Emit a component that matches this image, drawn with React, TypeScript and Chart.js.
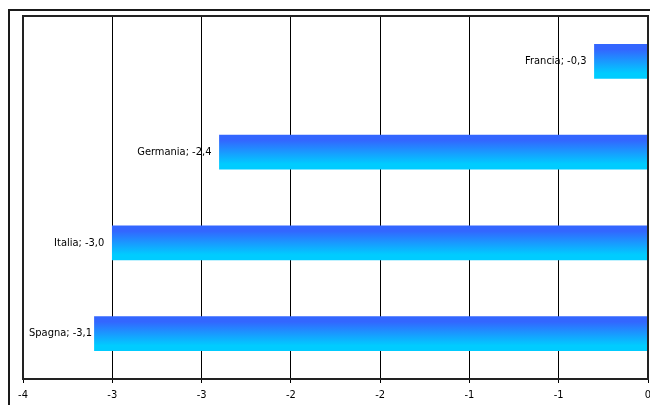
import React, { useEffect, useRef } from "react";
import { Chart, registerables } from "chart.js";

Chart.register(...registerables);

const categories = ["Francia", "Germania", "Italia", "Spagna"];
const values = [-0.3, -2.4, -3.0, -3.1];
const axisMin = -3.5;
const axisMax = 0;
const axisStep = 0.5;

const FONT = "'DejaVu Sans Condensed', 'Liberation Sans', sans-serif";

const framePlugin = {
  id: "frame",
  beforeDraw(chart: any) {
    const c = chart.ctx;
    c.save();
    c.fillStyle = "#ffffff";
    c.fillRect(0, 0, chart.width, chart.height);
    c.strokeStyle = "#1a1a1a";
    c.lineWidth = 2;
    c.strokeRect(9, 10, chart.width + 10, chart.height + 10);
    c.restore();
  },
  beforeDatasetsDraw(chart: any) {
    const meta = chart.getDatasetMeta(0);
    meta.data.forEach((el: any) => {
      const h = el.height || 34;
      const g = chart.ctx.createLinearGradient(0, el.y - h / 2, 0, el.y + h / 2);
      g.addColorStop(0, "#3366ff");
      g.addColorStop(0.15, "#3366ff");
      g.addColorStop(0.85, "#00ccff");
      g.addColorStop(1, "#00ccff");
      el.options = { ...el.options, backgroundColor: g };
    });
  },
  afterDraw(chart: any) {
    const a = chart.chartArea;
    const c = chart.ctx;
    c.save();
    c.strokeStyle = "#222";
    c.lineWidth = 2;
    c.strokeRect(a.left, a.top, a.right - a.left, a.bottom - a.top);
    c.restore();
  },
};

const labelPlugin = {
  id: "barLabels",
  afterDatasetsDraw(chart: any) {
    const meta = chart.getDatasetMeta(0);
    const a = chart.chartArea;
    const c = chart.ctx;
    c.save();
    c.font = `11px ${FONT}`;
    c.fillStyle = "#000";
    c.textAlign = "left";
    c.textBaseline = "middle";
    meta.data.forEach((el: any, i: number) => {
      const txt = `${categories[i]}; ${values[i].toFixed(1).replace(".", ",")}`;
      const w = c.measureText(txt).width;
      let left = el.x - 8 - w;
      if (left < a.left + 6) left = a.left + 6;
      c.fillText(txt, left, el.y);
    });
    c.restore();
  },
};

export default function App() {
  const ref = useRef<HTMLCanvasElement>(null);
  useEffect(() => {
    const canvas = ref.current!;
    const chart = new Chart(canvas, {
      type: "bar",
      data: {
        labels: categories,
        datasets: [
          {
            data: values,
            backgroundColor: "#1a99ff",
            borderWidth: 0,
            barThickness: 34,
          },
        ],
      },
      options: {
        indexAxis: "y",
        animation: false,
        responsive: false,
        maintainAspectRatio: false,
        layout: { padding: { left: 23, right: 2, top: 16, bottom: 0 } },
        plugins: {
          legend: { display: false },
          tooltip: { enabled: false },
        },
        scales: {
          y: { display: false },
          x: {
            min: axisMin,
            max: axisMax,
            afterFit(scale: any) {
              scale.height = 26;
              scale.paddingLeft = 0;
              scale.paddingRight = 0;
            },
            afterBuildTicks(scale: any) {
              const t = [];
              for (let v = axisMin; v <= axisMax + 1e-9; v += axisStep) t.push({ value: +v.toFixed(2) });
              scale.ticks = t;
            },
            grid: {
              color: "#000",
              lineWidth: 1,
              tickLength: 4,
              drawOnChartArea: true,
            },
            border: { color: "#222", width: 2 },
            ticks: {
              autoSkip: false,
              maxRotation: 0,
              padding: 6,
              color: "#000",
              font: { family: FONT, size: 11 },
              callback: (v: any) => {
                const n = Number(v);
                const r = Math.sign(n) * Math.round(Math.abs(n));
                return r === 0 ? "0" : String(r);
              },
            },
          },
        },
      },
      plugins: [framePlugin, labelPlugin],
    });
    return () => chart.destroy();
  }, []);
  return (
    <div style={{ position: "fixed", left: 0, top: 0, width: 650, height: 405 }}>
      <canvas ref={ref} width={650} height={405} style={{ display: "block" }} />
    </div>
  );
}
